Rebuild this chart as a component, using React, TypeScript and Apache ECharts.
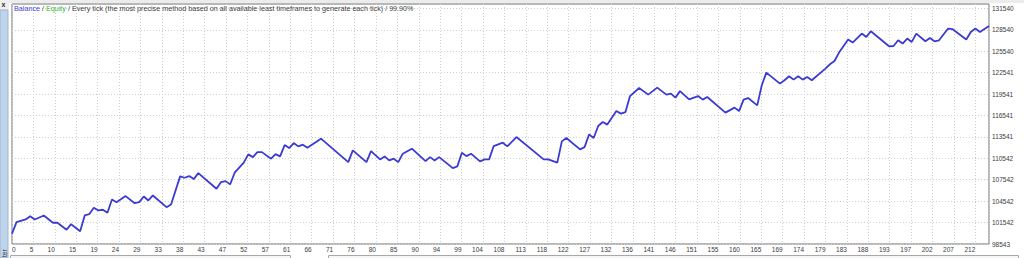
import React, { useEffect, useRef } from "react";
import * as echarts from "echarts";

// Trade number (x) and balance (y) at each visible vertex of the balance line
const tradeNo = [
  0, 1, 3, 4, 5, 7, 9, 10, 12, 13, 15, 16, 17, 18, 19, 20, 21, 22, 23, 25, 27, 28, 29, 30, 31,
  34, 35, 37, 38, 39, 40, 41, 45, 46, 47, 48, 49, 51, 52, 53, 54, 55, 57, 58, 59, 60, 61, 62,
  63, 64, 65, 68, 74, 75, 78, 79, 81, 82, 83, 84, 85, 86, 88, 91, 92, 93, 94, 97, 98, 99, 100,
  101, 103, 104, 105, 106, 108, 109, 111, 117, 118, 120, 121, 122, 125, 126, 127, 128, 129,
  130, 131, 133, 134, 135, 136, 138, 140, 142, 144, 145, 146, 147, 149, 151, 152, 153, 157,
  159, 160, 161, 162, 164, 165, 166, 169, 170, 171, 172, 173, 174, 175, 176, 179, 180, 181,
  182, 184, 185, 187, 188, 189, 193, 194, 195, 196, 197, 198, 199, 201, 202, 203, 204, 206,
  207, 210, 211, 212, 213, 215,
];
const balance = [
  100000, 101600, 101980, 102440, 101980, 102540, 101520, 101520, 100530, 101320, 100340,
  102540, 102720, 103620, 103240, 103340, 102920, 104780, 104400, 105250, 104260, 104400,
  105200, 104640, 105340, 103700, 104080, 108010, 107820, 108050, 107630, 108470, 106280,
  107210, 107350, 106890, 108525, 109930, 111090, 110710, 111410, 111410, 110490, 111130,
  110810, 112400, 111970, 112680, 112210, 112450, 112030, 113290, 110010, 111650, 110010,
  111550, 110390, 110810, 110250, 110490, 110010, 111190, 111890, 110150, 110710, 110250,
  110710, 109170, 109410, 111330, 110850, 111190, 110110, 110390, 110390, 112255, 112730,
  112210, 113520, 110390, 110390, 109930, 112910, 113380, 111790, 112110, 113900, 113380,
  115060, 115620, 115260, 117160, 116800, 117020, 119260, 120390, 119460, 120440, 119460,
  119600, 119040, 119950, 118800, 119260, 118760, 119120, 116940, 117640, 117160, 118760,
  118980, 117960, 120770, 122545, 121000, 121470, 122030, 121560, 122030, 121560, 121930,
  121470, 123110, 123710, 124170, 125350, 127170, 126750, 128010, 127540, 128340, 126230,
  126270, 127070, 126610, 127310, 126840, 128010, 126930, 127400, 126930, 127070, 128710,
  128620, 127170, 128240, 128710, 128240, 129080,
];

const xLabels = [
  "0", "5", "10", "15", "19", "24", "29", "33", "38", "43", "47", "52", "57", "61", "66", "71",
  "76", "80", "85", "90", "94", "99", "104", "108", "113", "118", "122", "127", "132", "136",
  "141", "146", "151", "155", "160", "165", "169", "174", "179", "183", "188", "193", "197",
  "202", "207", "212",
];
const yTicks = [
  98543, 101542, 104542, 107542, 110542, 113541, 116541, 119541, 122541, 125540, 128540, 131540,
];
const titleParts = {
  balance: "Balance",
  equity: "Equity",
  rest: " / Every tick (the most precise method based on all available least timeframes to generate each tick) / 99.90%",
};
const sideTabText = "ter";

const FONT = "Liberation Sans";

export default function App() {
  const ref = useRef<HTMLDivElement>(null);
  useEffect(() => {
    if (!ref.current) return;
    const chart = echarts.init(ref.current, null, { renderer: "svg" });
    const lastLabel = Number(xLabels[xLabels.length - 1]);
    const xStep = lastLabel / (xLabels.length - 1);
    const data = tradeNo.map((t, i) => [t, balance[i]]);
    const TF = 7.2;
    chart.setOption({
      animation: false,
      backgroundColor: "#ffffff",
      title: {
        left: 14,
        top: 5,
        padding: 0,
        text: `{b|${titleParts.balance}}{n| / }{g|${titleParts.equity}}{n|${titleParts.rest}}`,
        textStyle: {
          fontFamily: FONT,
          fontSize: TF,
          fontWeight: "normal",
          rich: {
            b: { color: "#4646d8", fontFamily: FONT, fontSize: TF },
            g: { color: "#38b838", fontFamily: FONT, fontSize: TF },
            n: { color: "#404040", fontFamily: FONT, fontSize: TF },
          },
        },
      },
      grid: {
        left: 12,
        right: 35,
        top: 4,
        bottom: 14,
        show: true,
        borderColor: "#707070",
        borderWidth: 1,
        backgroundColor: "transparent",
      },
      xAxis: {
        type: "value",
        min: 0,
        max: 215,
        interval: xStep,
        axisLine: { show: false },
        axisTick: { show: false },
        splitLine: { show: true, lineStyle: { color: "#cfcfcf", width: 1, type: [1, 2] } },
        axisLabel: {
          margin: 2,
          align: "right",
          alignMinLabel: "left",
          color: "#3a3a3a",
          fontFamily: FONT,
          fontSize: 6.5,
          showMaxLabel: false,
          formatter: (v: number) => {
            const k = Math.round(v / xStep);
            return xLabels[k] ?? "";
          },
        },
      },
      yAxis: {
        type: "value",
        position: "right",
        min: 98543,
        max: 132150,
        axisLine: { show: false },
        axisTick: { show: false, customValues: yTicks },
        splitLine: { show: true, lineStyle: { color: "#cfcfcf", width: 1, type: [1, 2] } },
        axisLabel: {
          customValues: yTicks,
          margin: 3,
          align: "left",
          verticalAlign: "middle",
          padding: [4, 0, 0, 0],
          color: "#3a3a3a",
          fontFamily: FONT,
          fontSize: 6.5,
          formatter: (v: number) => String(v),
        },
      },
      series: [
        {
          type: "line",
          data,
          showSymbol: false,
          symbol: "none",
          lineStyle: { color: "#3b3bd2", width: 1.8 },
          clip: true,
        },
      ],
      graphic: [
        { type: "rect", shape: { x: 0, y: 0, width: 1024, height: 3 }, style: { fill: "#ececec" }, silent: true },
        { type: "rect", shape: { x: 0, y: 0, width: 9, height: 10 }, style: { fill: "#f0f0f0" }, silent: true },
        {
          type: "text",
          x: 1.5,
          y: 0.5,
          style: { text: "x", fill: "#303030", font: `bold 7px ${FONT}` },
          silent: true,
        },
        {
          type: "rect",
          shape: { x: 0, y: 10, width: 8, height: 248 },
          style: { fill: "#bfd3ea", stroke: "#9db5d2", lineWidth: 1 },
          silent: true,
        },
        {
          type: "text",
          x: 4.5,
          y: 257,
          rotation: Math.PI / 2,
          style: { text: sideTabText, fill: "#303030", font: `6.5px ${FONT}`, textAlign: "left", textVerticalAlign: "middle" },
          silent: true,
        },
        {
          type: "rect",
          shape: { x: 10.5, y: 255.5, width: 280, height: 10 },
          style: { fill: "#f6f6f6", stroke: "#a8a8a8", lineWidth: 1 },
          silent: true,
        },
        {
          type: "rect",
          shape: { x: 328.5, y: 255.5, width: 690, height: 10 },
          style: { fill: "#f6f6f6", stroke: "#a8a8a8", lineWidth: 1 },
          silent: true,
        },
      ],
    });
    return () => chart.dispose();
  }, []);
  return (
    <div
      ref={ref}
      style={{ position: "absolute", left: 0, top: 0, width: 1024, height: 258 }}
    />
  );
}
